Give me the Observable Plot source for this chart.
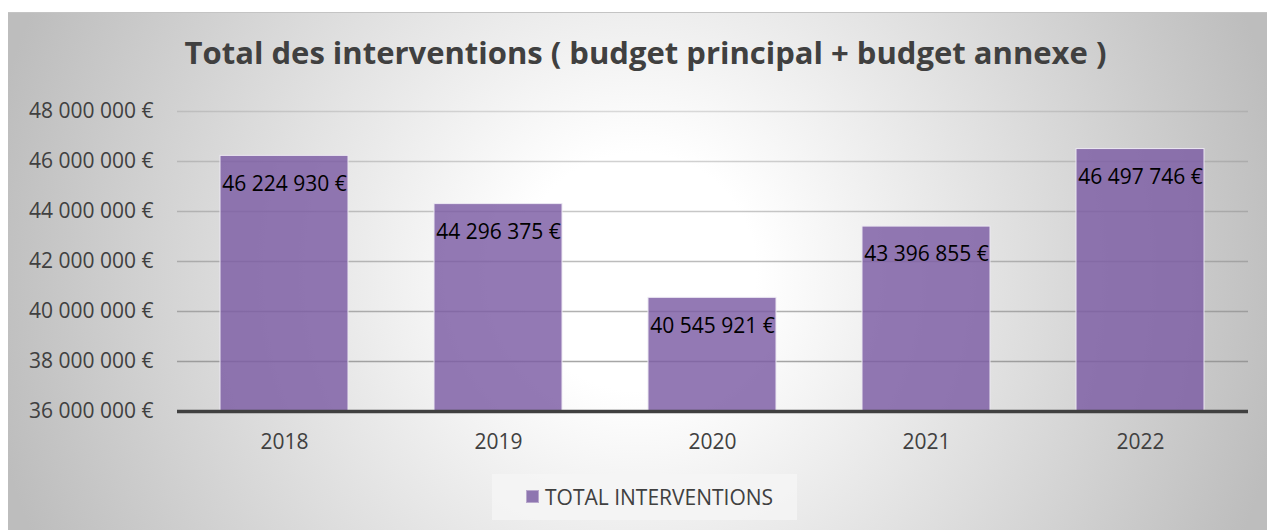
<!DOCTYPE html>
<html>
<head>
<meta charset="utf-8">
<script src="https://cdn.jsdelivr.net/npm/d3@7"></script>
<script src="https://cdn.jsdelivr.net/npm/@observablehq/plot@0.6"></script>
<style>
  html, body { margin: 0; padding: 0; background: #ffffff; }
  #page { position: relative; width: 1267px; height: 530px; overflow: hidden; font-family: "Open Sans", sans-serif; }
  #frame { position: absolute; left: 8px; top: 12px; width: 1259px; height: 518px;
    border-top: 1px solid #c4c4c4;
    background: radial-gradient(circle 660px at 50% 50%, #ffffff 18%, #bdbdbd 100%); }
  #title { position: absolute; left: 0; top: 37px; width: 1291px; text-align: center;
    font-size: 31px; font-weight: 700; line-height: 1; color: #404040; }
  #chart { position: absolute; left: 0; top: 0; }
  #legend { position: absolute; left: 492px; top: 474px; width: 305px; height: 46px; background: rgba(245,245,245,0.8); }
  #legend .sw { position: absolute; left: 34px; top: 16px; width: 13px; height: 13px; background: #8e76b0; border: 1px solid #b8a8cc; box-sizing: border-box; }
  #legend .lb { position: absolute; left: 53px; top: 0; line-height: 46px; font-size: 21px; color: #404040; }
</style>
</head>
<body>
<div id="page">
  <div id="frame"></div>
  <div id="chart"></div>
  <div id="title">Total des interventions ( budget principal + budget annexe )</div>
  <div id="legend"><div class="sw"></div><div class="lb">TOTAL INTERVENTIONS</div></div>
</div>
<script>
const years = ["2018", "2019", "2020", "2021", "2022"];
const totals = [46224930, 44296375, 40545921, 43396855, 46497746];
const yTicks = [36000000, 38000000, 40000000, 42000000, 44000000, 46000000, 48000000];
const seriesName = "TOTAL INTERVENTIONS";

const data = years.map((y, i) => ({year: y, value: totals[i]}));
const loc = d3.formatLocale({decimal: ",", thousands: "\u00a0", grouping: [3], currency: ["", "\u00a0€"]});
const fmt = v => loc.format(",d")(v) + "\u00a0€";

const chart = Plot.plot({
  width: 1267,
  height: 470,
  marginLeft: 177,
  marginRight: 19,
  marginTop: 111,
  marginBottom: 59,
  style: {background: "transparent", fontFamily: "Open Sans, sans-serif", fontSize: "21px", color: "#404040"},
  x: {domain: years, paddingInner: 0.4, paddingOuter: 0.2, label: null, tickSize: 0, tickPadding: 22},
  y: {domain: [36000000, 48000000], ticks: yTicks, label: null, tickSize: 0, tickPadding: 24, tickFormat: fmt},
  marks: [
    Plot.ruleY(yTicks.slice(1), {stroke: "#8a8a8a", strokeOpacity: d => 0.3 + 0.55 * (48000000 - d) / 12000000, strokeWidth: 1.5}),
    Plot.barY(data, {x: "year", y1: 36000000, y2: "value", fill: "#7b5ca3", fillOpacity: 0.82, stroke: "#ece8f2", strokeWidth: 1}),
    Plot.ruleY([36000000], {stroke: "#404040", strokeWidth: 3.5}),
    Plot.text(data, {x: "year", y: "value", text: d => fmt(d.value), dy: 28, fill: "#000000", fontSize: 21, textAnchor: "middle"}),
    Plot.axisY({ticks: yTicks, tickSize: 0, tickPadding: 24, tickFormat: fmt, fill: "#404040"}),
    Plot.axisX({tickSize: 0, tickPadding: 23, fill: "#404040"})
  ]
});
document.getElementById("chart").appendChild(chart);
</script>
</body>
</html>
